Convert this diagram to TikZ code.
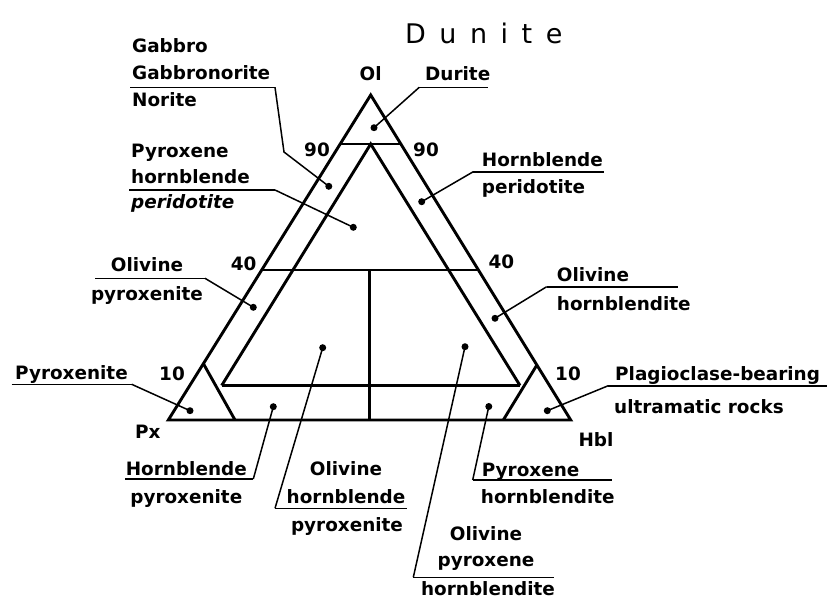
\documentclass[tikz,border=0pt]{standalone}
\usepackage{fontspec}
\setmainfont{DejaVu Sans}
\newfontfamily\handfont{DejaVu Sans}[LetterSpace=50]
\begin{document}
\begin{tikzpicture}[x=1pt,y=-1pt,
  tri/.style={line width=2.9pt, line join=miter, line cap=butt},
  lead/.style={line width=1.5pt},
  uline/.style={line width=1.6pt},
  lbl/.style={inner sep=0pt, font=\bfseries\fontsize{18.4}{20}\selectfont},
  lbli/.style={lbl, font=\bfseries\itshape\fontsize{18.4}{20}\selectfont},
  dotnode/.style={circle, fill=black, inner sep=0pt, minimum size=7pt},
]
\useasboundingbox (0,0) rectangle (828,605);
\fill[white] (0,0) rectangle (828,605);

% ---------- triangle geometry ----------
\coordinate (Ol) at (370.7,95);
\coordinate (Px) at (168.3,420);
\coordinate (Hb) at (570.7,420);
\coordinate (n90L) at (340.2,144);
\coordinate (n90R) at (400.9,144);
\coordinate (inA) at (370.7,144);
\coordinate (n40L) at (261.7,270);
\coordinate (n40R) at (478.4,270);
\coordinate (n10L) at (221.7,385.5);
\coordinate (n10R) at (520,385.5);
\coordinate (vT) at (369.3,270);
\coordinate (vB) at (369.3,420);
\coordinate (pxT) at (203.6,364);
\coordinate (pxB) at (235,420);
\coordinate (hbT) at (536.9,365);
\coordinate (hbB) at (503.3,420);

\draw[tri] (Ol) -- (Px) -- (Hb) -- cycle;
\draw[tri] (n90L) -- (n90R);
\draw[tri] (n40L) -- (n40R);
\draw[tri] (n10L) -- (inA) -- (n10R);
\draw[tri, line width=3.3pt] (n10L) -- (n10R);
\draw[tri] (vT) -- (vB);
\draw[tri] (pxT) -- (pxB);
\draw[tri] (hbT) -- (hbB);

% ---------- corner and tick labels ----------
\node[lbl, anchor=base] (tOl) at (370.7,80) {Ol};
\node[lbl, anchor=base west] (tPx) at (135,438.3) {Px};
\node[lbl, anchor=base west] (tHb) at (578.3,446.7) {Hbl};
\node[lbl, anchor=base east] (t90L) at (330,156.7) {90};
\node[lbl, anchor=base west] (t90R) at (413,156.7) {90};
\node[lbl, anchor=base east] (t40L) at (256.7,270) {40};
\node[lbl, anchor=base west] (t40R) at (488.3,268.3) {40};
\node[lbl, anchor=base east] (t10L) at (185,380) {10};
\node[lbl, anchor=base west] (t10R) at (555,380) {10};

% ---------- handwritten note ----------
\node[inner sep=0pt, anchor=base west, font=\handfont\fontsize{27}{29}\selectfont] (hand) at (405,43.3) {Dunite};

% ---------- dots ----------
\node[dotnode] (dGab) at (328.8,186.3) {};
\node[dotnode] (dDur) at (374,127.7) {};
\node[dotnode] (dPHP) at (353.3,227.3) {};
\node[dotnode] (dHP) at (421.7,201.7) {};
\node[dotnode] (dOP) at (253.3,307.3) {};
\node[dotnode] (dOH) at (495,318.3) {};
\node[dotnode] (dPx) at (190,410.7) {};
\node[dotnode] (dPl) at (547.3,410.7) {};
\node[dotnode] (dHPx) at (273.3,406.7) {};
\node[dotnode] (dOHP) at (322.7,347.7) {};
\node[dotnode] (dPH) at (488.8,406.5) {};
\node[dotnode] (dOPH) at (465,346.7) {};

% ---------- Gabbro / Gabbronorite / Norite ----------
\node[lbl, anchor=base west] (gab1) at (132,52.7) {Gabbro};
\node[lbl, anchor=base west] (gab2) at (132,79.3) {Gabbronorite};
\node[lbl, anchor=base west] (gab3) at (132,106.7) {Norite};
\coordinate (gabU1) at (130,87.3);
\coordinate (gabU2) at (275,87.3);
\coordinate (gabK) at (284,152);
\draw[uline] (gabU1) -- (gabU2);
\draw[lead] (gabU2) -- (gabK) -- (dGab.center);

% ---------- Durite ----------
\node[lbl, anchor=base west] (dur) at (425,80) {Durite};
\coordinate (durU1) at (419.3,87.3);
\coordinate (durU2) at (488,87.3);
\draw[uline] (durU1) -- (durU2);
\draw[lead] (durU1) -- (dDur.center);

% ---------- Pyroxene hornblende peridotite ----------
\node[lbl, anchor=base west] (php1) at (131,157) {Pyroxene};
\node[lbl, anchor=base west] (php2) at (131,183.3) {hornblende};
\node[lbli, anchor=base west] (php3) at (131,208.5) {peridotite};
\coordinate (phpU1) at (129.3,190);
\coordinate (phpU2) at (275,190);
\draw[uline] (phpU1) -- (phpU2);
\draw[lead] (phpU2) -- (dPHP.center);

% ---------- Hornblende peridotite ----------
\node[lbl, anchor=base west] (hp1) at (481.7,166.7) {Hornblende};
\node[lbl, anchor=base west] (hp2) at (481.7,193.3) {peridotite};
\coordinate (hpU1) at (473.3,171.7);
\coordinate (hpU2) at (604,171.7);
\draw[uline] (hpU1) -- (hpU2);
\draw[lead] (hpU1) -- (dHP.center);

% ---------- Olivine pyroxenite ----------
\node[lbl, anchor=base] (op1) at (147,271.7) {Olivine};
\node[lbl, anchor=base] (op2) at (147,300) {pyroxenite};
\coordinate (opU1) at (95,278.3);
\coordinate (opU2) at (205,278.3);
\draw[uline] (opU1) -- (opU2);
\draw[lead] (opU2) -- (dOP.center);

% ---------- Olivine hornblendite ----------
\node[lbl, anchor=base west] (oh1) at (556.7,281.7) {Olivine};
\node[lbl, anchor=base west] (oh2) at (556.7,310) {hornblendite};
\coordinate (ohU1) at (546.7,286.7);
\coordinate (ohU2) at (678.3,286.7);
\draw[uline] (ohU1) -- (ohU2);
\draw[lead] (ohU1) -- (dOH.center);

% ---------- Pyroxenite ----------
\node[lbl, anchor=base west] (px1) at (15,379.3) {Pyroxenite};
\coordinate (pxU1) at (11.7,384.3);
\coordinate (pxU2) at (131.7,384.3);
\draw[uline] (pxU1) -- (pxU2);
\draw[lead] (pxU2) -- (dPx.center);

% ---------- Plagioclase-bearing ultramatic rocks ----------
\node[lbl, anchor=base west] (pl1) at (615,380) {Plagioclase-bearing};
\node[lbl, anchor=base west] (pl2) at (614,413.3) {ultramatic rocks};
\coordinate (plU1) at (608.3,385.7);
\coordinate (plU2) at (826.7,385.7);
\draw[uline] (plU1) -- (plU2);
\draw[lead] (plU1) -- (dPl.center);

% ---------- Hornblende pyroxenite ----------
\node[lbl, anchor=base] (hpx1) at (186.3,475) {Hornblende};
\node[lbl, anchor=base] (hpx2) at (186.3,503) {pyroxenite};
\coordinate (hpxU1) at (125,479);
\coordinate (hpxU2) at (253.3,479);
\draw[uline] (hpxU1) -- (hpxU2);
\draw[lead] (hpxU2) -- (dHPx.center);

% ---------- Olivine hornblende pyroxenite ----------
\node[lbl, anchor=base] (ohp1) at (346,475) {Olivine};
\node[lbl, anchor=base] (ohp2) at (346,503.3) {hornblende};
\node[lbl, anchor=base] (ohp3) at (347,531.7) {pyroxenite};
\coordinate (ohpU1) at (275,508.3);
\coordinate (ohpU2) at (406.7,508.3);
\draw[uline] (ohpU1) -- (ohpU2);
\draw[lead] (ohpU1) -- (dOHP.center);

% ---------- Pyroxene hornblendite ----------
\node[lbl, anchor=base west] (ph1) at (481.7,476.7) {Pyroxene};
\node[lbl, anchor=base west] (ph2) at (480.7,503.3) {hornblendite};
\coordinate (phU1) at (472.7,480);
\coordinate (phU2) at (611.7,480);
\draw[uline] (phU1) -- (phU2);
\draw[lead] (phU1) -- (dPH.center);

% ---------- Olivine pyroxene hornblendite ----------
\node[lbl, anchor=base] (oph1) at (486,540) {Olivine};
\node[lbl, anchor=base] (oph2) at (486,566) {pyroxene};
\node[lbl, anchor=base] (oph3) at (488,595) {hornblendite};
\coordinate (ophU1) at (413.3,577.3);
\coordinate (ophU2) at (554,577.3);
\draw[uline] (ophU1) -- (ophU2);
\draw[lead] (ophU1) -- (dOPH.center);
\end{tikzpicture}
\end{document}
